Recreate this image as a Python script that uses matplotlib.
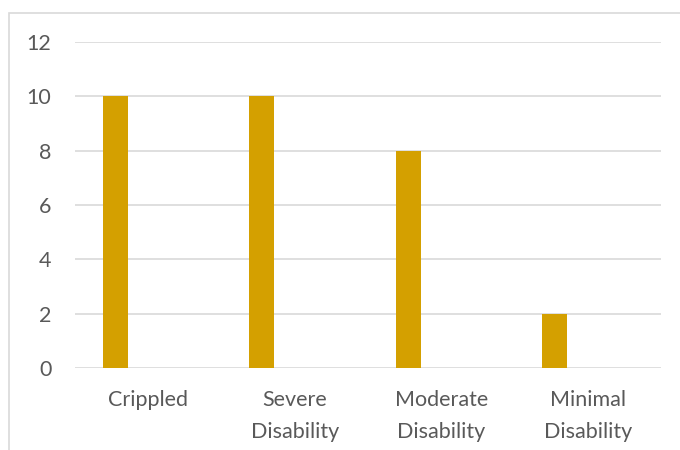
import matplotlib
matplotlib.use("Agg")
import matplotlib.pyplot as plt
import numpy as np

categories = ["Crippled", "Severe\nDisability", "Moderate\nDisability", "Minimal\nDisability"]
values = [10, 10, 8, 2]
yticks = [0, 2, 4, 6, 8, 10, 12]

BAR = "#D4A000"
TXT = "#595959"
GRID = "#D9D9D9"
plt.rcParams["font.family"] = ["Lato", "DejaVu Sans"]

fig = plt.figure(figsize=(6.8, 4.5), dpi=100)
# chart border (cropped on right/bottom like the reference)
fig.patches.append(plt.Rectangle((9/680, -0.1), 1.2, 1 - 13/450 + 0.1, transform=fig.transFigure,
                                 fill=False, ec=GRID, lw=1.2))
ax = fig.add_axes([75/680, 1 - 368/450, 586/680, (368 - 42)/450])
x = np.arange(len(categories))
ax.bar(x - 0.225, values, width=0.17, color=BAR, zorder=3)
ax.set_xlim(-0.5, len(categories) - 0.5)
ax.set_ylim(0, 12)
ax.set_yticks(yticks)
ax.set_xticks(x)
ax.set_xticklabels(categories, linespacing=1.75)
ax.yaxis.grid(True, color=GRID, lw=1.2, zorder=0)
for s in ax.spines.values():
    s.set_visible(False)
ax.tick_params(axis="both", length=0, labelsize=15.5, labelcolor=TXT)
ax.tick_params(axis="y", pad=17)
ax.tick_params(axis="x", pad=16)
fig.savefig("out.png", dpi=100)
